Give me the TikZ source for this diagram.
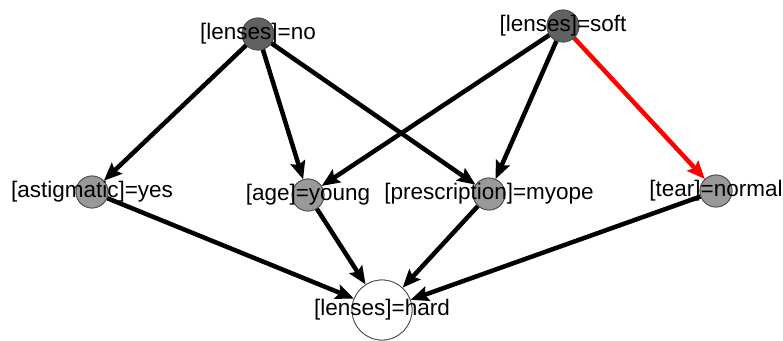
\documentclass[tikz,border=0pt]{standalone}
\usepackage{fontspec}
\setmainfont{Liberation Sans}
\usetikzlibrary{arrows.meta}
\begin{document}
\begin{tikzpicture}[x=1pt,y=-1pt,line join=round,
		>={Stealth[length=18pt,width=15pt,inset=3pt]},
		top/.style={circle,draw=black!70,line width=0.8pt,fill=black!62,minimum size=32pt,inner sep=0pt},
		mid/.style={circle,draw=black!70,line width=0.8pt,fill=black!40,minimum size=32pt,inner sep=0pt},
		bot/.style={circle,draw=black!70,line width=0.8pt,fill=white,minimum size=60pt,inner sep=0pt},
		lbl/.style={font=\fontsize{22.5}{24}\selectfont,inner sep=0pt},
		edge/.style={->,line width=4.5pt}]
	\useasboundingbox (0,0) rectangle (783,340);
	% nodes
	\node[top] (no) at (258,34) {};
	\node[top] (soft) at (563,26) {};
	\node[mid] (ast) at (92,192) {};
	\node[mid] (age) at (308,195) {};
	\node[mid] (pre) at (489,194) {};
	\node[mid] (tear) at (716,191) {};
	\node[bot] (hard) at (382,310) {};
	% edges
	\draw[edge] (no) -- (ast);
	\draw[edge] (no) -- (age);
	\draw[edge] (no) -- (pre);
	\draw[edge] (soft) -- (age);
	\draw[edge] (soft) -- (pre);
	\draw[edge,red] (soft) -- (tear);
	\draw[edge] (ast) -- (hard);
	\draw[edge] (age) -- (hard);
	\draw[edge] (pre) -- (hard);
	\draw[edge] (tear) -- (hard);
	% redraw circles over the edges
	\node[top] at (no) {};
	\node[top] at (soft) {};
	\node[mid] at (ast) {};
	\node[mid] at (age) {};
	\node[mid] at (pre) {};
	\node[mid] at (tear) {};
	\node[bot] at (hard) {};
	% labels
	\node[lbl] (no-l) at (no) {[lenses]=no};
	\node[lbl] (soft-l) at (soft) {[lenses]=soft};
	\node[lbl] (ast-l) at (ast) {[astigmatic]=yes};
	\node[lbl] (age-l) at (age) {[age]=young};
	\node[lbl] (pre-l) at (pre) {[prescription]=myope};
	\node[lbl] (tear-l) at (tear) {[tear]=normal};
	\node[lbl] (hard-l) at (hard) {[lenses]=hard};
\end{tikzpicture}
\end{document}
